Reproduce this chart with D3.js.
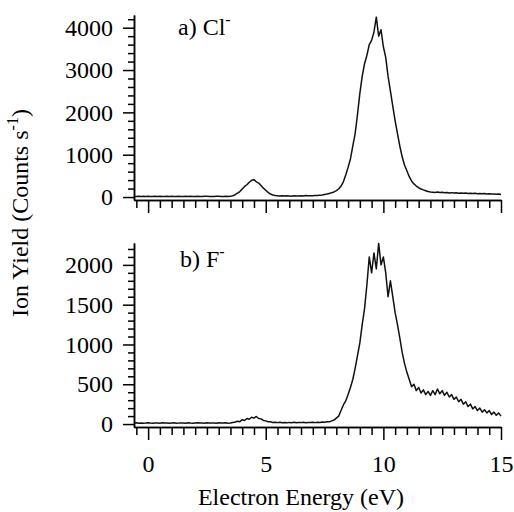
<!DOCTYPE html>
<html>
<head>
<meta charset="utf-8">
<script src="https://cdn.jsdelivr.net/npm/d3@7"></script>
<style>
body{margin:0;background:#fff;}
</style>
</head>
<body>
<script>
// electron energy grid (eV)
var energy=[-0.6,-0.5,-0.4,-0.3,-0.2,-0.1,
  0.0,0.1,0.2,0.3,0.4,0.5,0.6,0.7,0.8,0.9,
  1.0,1.1,1.2,1.3,1.4,1.5,1.6,1.7,1.8,1.9,
  2.0,2.1,2.2,2.3,2.4,2.5,2.6,2.7,2.8,2.9,
  3.0,3.1,3.2,3.3,3.4,3.5,3.6,3.7,3.8,3.9,
  4.0,4.1,4.2,4.3,4.4,4.5,4.6,4.7,4.8,4.9,
  5.0,5.1,5.2,5.3,5.4,5.5,5.6,5.7,5.8,5.9,
  6.0,6.1,6.2,6.3,6.4,6.5,6.6,6.7,6.8,6.9,
  7.0,7.1,7.2,7.3,7.4,7.5,7.6,7.7,7.8,7.9,
  8.0,8.1,8.2,8.3,8.4,8.5,8.6,8.7,8.8,8.9,
  9.0,9.1,9.2,9.3,9.4,9.5,9.6,9.7,9.8,9.9,
  10.0,10.1,10.2,10.3,10.4,10.5,10.6,10.7,10.8,10.9,
  11.0,11.1,11.2,11.3,11.4,11.5,11.6,11.7,11.8,11.9,
  12.0,12.1,12.2,12.3,12.4,12.5,12.6,12.7,12.8,12.9,
  13.0,13.1,13.2,13.3,13.4,13.5,13.6,13.7,13.8,13.9,
  14.0,14.1,14.2,14.3,14.4,14.5,14.6,14.7,14.8,14.9,
  15.0];

// a) Cl- yield (counts/s)
var clYield=[15,12,18,14,16,13,17,15,12,16,14,18,15,13,16,14,17,12,15,16,
  14,13,18,15,16,12,14,17,15,13,16,18,14,15,12,17,16,14,15,18,13,16,
  30,55,90,130,190,250,290,350,395,410,
  360,330,270,210,160,110,70,50,35,30,
  25,30,22,28,25,20,30,26,22,30,
  25,35,28,32,30,38,35,45,50,60,
  70,85,100,120,150,190,260,360,520,700,
  900,1200,1500,1950,2450,2850,3150,3350,3600,3700,
  3900,4250,3800,3950,3550,3300,2850,2500,2150,1800,
  1500,1200,950,750,620,480,380,310,260,220,
  190,170,150,130,120,
  115,110,120,105,112,100,108,98,104,95,100,92,97,88,94,
  85,90,82,88,80,84,76,82,72,78,70,74,66,70,62];

// b) F- yield (counts/s)
var fYield=[12,15,10,14,11,13,16,12,10,14,13,11,15,12,14,10,13,16,11,12,
  14,13,10,15,12,11,14,16,12,13,10,15,13,12,14,11,16,12,13,15,11,14,
  20,25,35,30,55,45,70,60,85,75,
  95,70,65,45,40,30,28,20,24,18,
  22,16,20,15,21,17,23,16,20,18,
  22,17,21,19,24,18,22,20,25,22,
  30,28,40,50,75,100,170,240,290,370,
  460,560,700,860,1020,1250,1450,1750,2100,1900,
  2150,1950,2270,2000,2100,1900,1600,1800,1600,1400,
  1250,1080,900,760,650,560,470,500,420,460,
  390,430,370,410,360,420,370,440,380,420,
  360,400,340,370,310,340,280,310,250,280,
  220,250,190,220,170,200,150,180,140,170,
  120,150,110,140,100];

var xTicks=[0,5,10,15];
var clTicks=[0,1000,2000,3000,4000];
var fTicks=[0,500,1000,1500,2000];

var font="'Liberation Serif','Times New Roman',serif";

var svg=d3.select("body").append("svg").attr("width",514).attr("height",512);
svg.append("rect").attr("width",514).attr("height",512).attr("fill","#fff");

var x=d3.scaleLinear().domain([-0.6,15]).range([134,501]);
var yCl=d3.scaleLinear().domain([-70,4300]).range([200,15]);
var yF=d3.scaleLinear().domain([-37,2275]).range([427,243]);

var xMinor=d3.range(-0.5,15.01,0.5).filter(function(v){return v%5!==0;});

function styleAxis(g){
  g.attr("font-family",font).attr("font-size",24);
  g.selectAll("path,line").attr("stroke","#000").attr("stroke-width",1.5);
  g.selectAll("text").attr("fill","#000");
}

function panel(y,values,majors,minorStep,showXLabels){
  var yMinor=d3.range(0,y.domain()[1],minorStep).filter(function(v){return majors.indexOf(v)<0;});
  var axisY=y.range()[0];

  svg.append("g").attr("transform","translate(134,0)")
    .call(d3.axisLeft(y).tickValues(yMinor).tickSize(6).tickSizeOuter(0).tickFormat(""))
    .call(styleAxis);
  svg.append("g").attr("transform","translate(134,0)")
    .call(d3.axisLeft(y).tickValues(majors).tickSize(11).tickSizeOuter(0).tickPadding(10)
      .tickFormat(d3.format("d")))
    .call(styleAxis);

  svg.append("g").attr("transform","translate(0,"+axisY+")")
    .call(d3.axisBottom(x).tickValues(xMinor).tickSize(8).tickSizeOuter(0).tickFormat(""))
    .call(styleAxis);
  svg.append("g").attr("transform","translate(0,"+axisY+")")
    .call(d3.axisBottom(x).tickValues(xTicks).tickSize(13).tickSizeOuter(0).tickPadding(15)
      .tickFormat(showXLabels?d3.format("d"):""))
    .call(styleAxis);

  svg.append("path")
    .datum(values)
    .attr("fill","none")
    .attr("stroke","#111")
    .attr("stroke-width",1.5)
    .attr("stroke-linejoin","round")
    .attr("d",d3.line()
      .x(function(d,i){return x(energy[i]);})
      .y(function(d){return y(d);}));
}

panel(yCl,clYield,clTicks,200,false);
panel(yF,fYield,fTicks,100,true);

// panel labels
var la=svg.append("text").attr("x",178).attr("y",35)
  .attr("font-family",font).attr("font-size",24).text("a) Cl");
la.append("tspan").attr("font-size",16).attr("dy",-10).text("-");

var lb=svg.append("text").attr("x",180).attr("y",267)
  .attr("font-family",font).attr("font-size",24).text("b) F");
lb.append("tspan").attr("font-size",16).attr("dy",-10).text("-");

// axis titles
svg.append("text")
  .attr("x",301).attr("y",505)
  .attr("text-anchor","middle")
  .attr("font-family",font).attr("font-size",24)
  .text("Electron Energy (eV)");

var yt=svg.append("text")
  .attr("transform","translate(28,213) rotate(-90)")
  .attr("text-anchor","middle")
  .attr("font-family",font).attr("font-size",24);
yt.append("tspan").text("Ion Yield (Counts s");
yt.append("tspan").attr("font-size",16).attr("dy",-10).text("-1");
yt.append("tspan").attr("dy",10).text(")");
</script>
</body>
</html>
